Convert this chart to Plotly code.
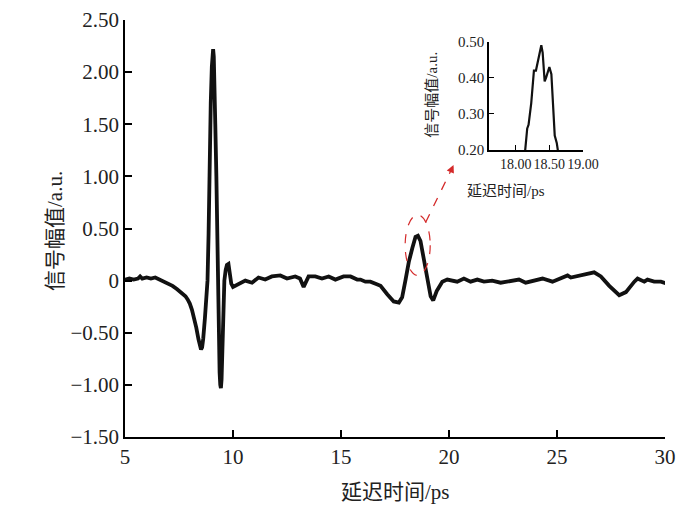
import plotly.graph_objects as go

# ---- main trace data ----
delay_ps = [5.0, 5.2, 5.4, 5.6, 5.7, 5.8, 6.0, 6.2, 6.4, 6.6, 6.8, 7.0, 7.2, 7.4, 7.6, 7.8, 7.9,
            8.0, 8.1, 8.2, 8.3, 8.4, 8.46, 8.52, 8.57, 8.62, 8.7, 8.78, 8.82, 8.87, 8.91, 8.97,
            9.02, 9.05, 9.08, 9.11, 9.14, 9.18, 9.23, 9.27, 9.3, 9.34, 9.38, 9.41, 9.44, 9.47,
            9.5, 9.55, 9.6, 9.66, 9.72, 9.79, 9.85, 9.92, 10.0, 10.1, 10.3, 10.57, 10.88, 11.18,
            11.49, 11.8, 12.19, 12.5, 12.88, 13.1, 13.27, 13.5, 13.81, 14.12, 14.43, 14.74, 15.12,
            15.44, 15.75, 15.9, 16.13, 16.36, 16.6, 16.83, 17.14, 17.44, 17.68, 17.83, 17.99,
            18.14, 18.3, 18.45, 18.56, 18.68, 18.84, 18.99, 19.15, 19.27, 19.43, 19.69, 19.92,
            20.38, 20.69, 21.0, 21.31, 21.62, 22.0, 22.39, 22.78, 23.24, 23.55, 23.94, 24.33,
            24.79, 25.18, 25.49, 25.64, 26.1, 26.72, 27.03, 27.42, 27.88, 28.19, 28.58, 28.73,
            29.04, 29.19, 29.5, 29.81, 30.1]
amplitude = [0.01, 0.02, 0.01, 0.02, 0.04, 0.02, 0.03, 0.02, 0.03, 0.01, 0.0, -0.02, -0.05,
             -0.08, -0.11, -0.15, -0.18, -0.22, -0.28, -0.35, -0.45, -0.56, -0.62, -0.66, -0.64,
             -0.56, -0.36, -0.1, 0.0, 0.45, 1.1, 1.7, 2.05, 2.18, 2.22, 2.15, 1.95, 1.5, 1.0, 0.4,
             0.0, -0.5, -0.88, -1.0, -1.03, -0.95, -0.75, -0.35, 0.0, 0.1, 0.15, 0.16, 0.08,
             -0.03, -0.06, -0.05, -0.02, 0.0, -0.02, 0.03, 0.01, 0.04, 0.05, 0.02, 0.04, 0.02,
             -0.06, 0.04, 0.04, 0.02, 0.04, 0.01, 0.04, 0.04, 0.01, 0.01, -0.01, -0.01, -0.03,
             -0.05, -0.13, -0.2, -0.21, -0.16, 0.01, 0.18, 0.31, 0.42, 0.43, 0.38, 0.2, 0.01,
             -0.15, -0.19, -0.1, -0.01, 0.01, -0.01, 0.02, -0.01, 0.01, -0.01, 0.0, -0.02, -0.01,
             0.01, -0.02, 0.0, 0.02, -0.01, 0.02, 0.05, 0.03, 0.05, 0.08, 0.04, -0.05, -0.14,
             -0.11, -0.01, 0.02, -0.01, 0.01, -0.01, -0.01, -0.03]

# ---- inset (zoom of echo peak) ----
inset_delay = [18.12, 18.14, 18.17, 18.19, 18.23, 18.27, 18.3, 18.33, 18.35, 18.38, 18.4, 18.43,
               18.45, 18.5, 18.53, 18.56, 18.58, 18.61, 18.63]
inset_amp = [0.19, 0.20, 0.26, 0.27, 0.33, 0.42, 0.42, 0.45, 0.47, 0.49, 0.47, 0.39, 0.40, 0.43,
             0.41, 0.32, 0.24, 0.22, 0.195]

# ---- ticks ----
x_ticks = [5, 10, 15, 20, 25, 30]
y_ticks = [-1.5, -1.0, -0.5, 0, 0.5, 1.0, 1.5, 2.0, 2.5]
y_ticktext = ["\u22121.50", "\u22121.00", "\u22120.50", "0", "0.50", "1.00", "1.50", "2.00", "2.50"]
inset_x_ticks = [18.0, 18.5, 19.0]
inset_y_ticks = [0.2, 0.3, 0.4, 0.5]

x_title = "延迟时间/ps"
y_title = "信号幅值/a.u."

FONT = "Liberation Serif, Times New Roman, Noto Sans CJK SC, serif"

fig = go.Figure()
fig.add_trace(go.Scatter(x=delay_ps, y=amplitude, mode="lines",
                         line=dict(color="#111111", width=3.8), showlegend=False))
fig.add_trace(go.Scatter(x=inset_delay, y=inset_amp, mode="lines", xaxis="x2", yaxis="y2",
                         line=dict(color="#111111", width=2.2), showlegend=False))

axis_common = dict(showline=True, linecolor="black", linewidth=1.5, ticks="inside",
                   tickcolor="black", showgrid=False, zeroline=False, mirror=False,
                   automargin=False, ticklabeloverflow="allow")

# page body has an 8px offset, so the figure is sized 692x502
fig.update_layout(
    width=692, height=502,
    margin=dict(l=117, r=35, t=12, b=73, autoexpand=False),
    paper_bgcolor="white", plot_bgcolor="white",
    font=dict(family=FONT, color="#222222", size=21),
    xaxis=dict(range=[5, 30], tickvals=x_ticks, ticklen=7, tickwidth=1.5,
               tickfont=dict(size=21), **axis_common),
    yaxis=dict(range=[-1.5, 2.5], tickvals=y_ticks, ticktext=y_ticktext, ticklen=7,
               tickwidth=1.5, tickfont=dict(size=21), **axis_common),
    xaxis2=dict(domain=[0.674, 0.848], anchor="y2", range=[17.6, 19.0], tickvals=inset_x_ticks,
                tickformat=".2f", tickangle=0, ticklen=5, tickwidth=1.2,
                tickfont=dict(size=14), **axis_common),
    yaxis2=dict(domain=[0.688, 0.948], anchor="x2", range=[0.2, 0.5], tickvals=inset_y_ticks,
                tickformat=".2f", ticklen=5, tickwidth=1.2, tickfont=dict(size=15),
                **axis_common),
)

# axis titles
fig.add_annotation(text=x_title, xref="paper", yref="paper", x=0.5, y=0, yshift=-55,
                   showarrow=False, font=dict(size=21, family=FONT), yanchor="middle")
fig.add_annotation(text=y_title, xref="paper", yref="paper", x=0, xshift=-70, y=0.494,
                   textangle=-90, showarrow=False, font=dict(size=21, family=FONT),
                   xanchor="center", yanchor="middle")
fig.add_annotation(text=x_title, xref="paper", yref="paper", x=0.781, y=0.59,
                   showarrow=False, font=dict(size=15, family=FONT), yanchor="middle")
fig.add_annotation(text=y_title, xref="paper", yref="paper", x=0.5685, y=0.821,
                   textangle=-90, showarrow=False, font=dict(size=15, family=FONT),
                   xanchor="center", yanchor="middle")

# red dashed ellipse and arrow
fig.add_shape(type="circle", xref="x", yref="y", x0=17.97, x1=19.13, y0=0.05, y1=0.63,
              line=dict(color="#d42a2a", width=1.2, dash="dash"))
fig.add_shape(type="line", xref="x", yref="y", x0=18.92, y0=0.56, x1=20.1, y1=1.06,
              line=dict(color="#d42a2a", width=1.3, dash="dash"))
fig.add_annotation(x=20.21, y=1.11, ax=20.08, ay=1.05, xref="x", yref="y", axref="x",
                   ayref="y", text="", showarrow=True, arrowhead=2, arrowsize=1.2,
                   arrowwidth=1.3, arrowcolor="#d42a2a")

fig.write_html("out.html")
